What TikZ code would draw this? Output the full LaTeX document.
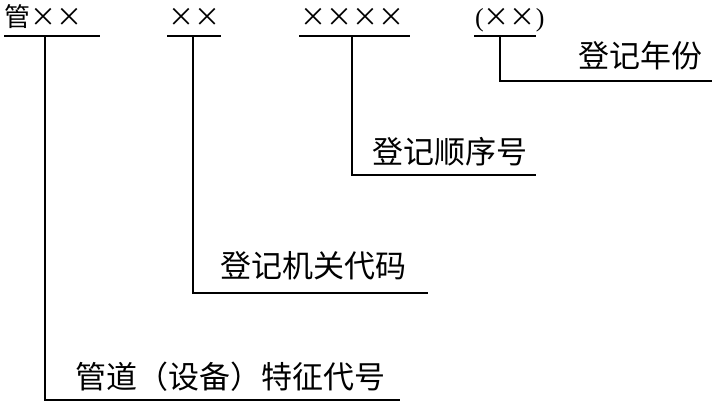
\documentclass[tikz,border=0pt]{standalone}
\usepackage{fontspec}
\newfontfamily\cjk{Noto Sans CJK SC}
\setmainfont{Liberation Serif}
\begin{document}
\begin{tikzpicture}[x=1pt,y=-1pt,ln/.style={line width=1.2pt},
 lab/.style={font=\cjk\fontsize{31}{31}\selectfont,inner sep=0pt},
 mk/.style={font=\cjk\fontsize{26}{26}\selectfont,inner sep=0pt}]
\useasboundingbox (0,0) rectangle (712,403);
\node[mk,anchor=base west] (a) at (4,27) {管××};
\node[mk,anchor=base west] (b) at (168,27) {××};
\node[mk,anchor=base west] (c) at (300,27) {××××};
\node[mk,anchor=base west] (d) at (475,27) {\rmfamily(\cjk××\rmfamily)};
\draw[ln] (4,36) -- (100,36);
\draw[ln] (167,36) -- (221,36);
\draw[ln] (299,36) -- (410,36);
\draw[ln] (474,36) -- (536,36);
\coordinate (a1) at (45,36); \coordinate (b1) at (193,36);
\coordinate (c1) at (352,36); \coordinate (d1) at (500,36);
\draw[ln] (a1) |- (400,400);
\draw[ln] (b1) |- (428,293);
\draw[ln] (c1) |- (536,175);
\draw[ln] (d1) |- (712,81);
\node[lab,anchor=base west] (ta) at (75,388) {管道（设备）特征代号};
\node[lab,anchor=base west] (tb) at (220,278) {登记机关代码};
\node[lab,anchor=base west] (tc) at (372,164) {登记顺序号};
\node[lab,anchor=base west] (td) at (578,68) {登记年份};
\end{tikzpicture}
\end{document}
